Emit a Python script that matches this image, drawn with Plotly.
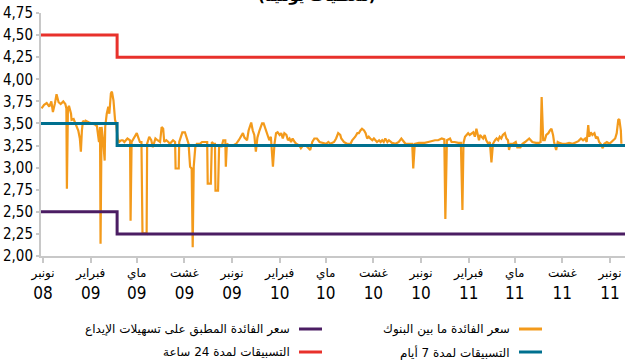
import pandas as pd
import plotly.graph_objects as go

# interbank rate (days counted from 2008-11-01)
interbank_days = [
    -3, 2, 7, 12, 16, 19, 23, 26, 30, 34, 39, 43, 45, 46, 48, 50, 54, 55, 59, 63,
    68, 71, 73, 75, 77, 80, 82, 89, 95, 100, 104, 106, 108, 110, 111, 113, 116, 119, 120, 123,
    126, 128, 131, 133, 136, 139, 141, 144, 147, 151, 154, 157, 163, 168, 169, 171, 173, 178, 181, 184,
    187, 190, 192, 200, 201, 205, 209, 212, 214, 217, 221, 226, 229, 232, 234, 238, 242, 245, 251, 255,
    256, 262, 263, 266, 269, 274, 278, 281, 284, 287, 289, 291, 294, 297, 303, 307, 313, 317, 318, 324,
    326, 329, 332, 333, 338, 340, 345, 348, 352, 353, 355, 360, 367, 373, 378, 383, 386, 389, 394, 397,
    402, 405, 408, 411, 414, 418, 423, 426, 430, 433, 437, 440, 444, 447, 450, 453, 457, 460, 463, 466,
    470, 473, 476, 479, 482, 486, 489, 495, 498, 502, 508, 516, 520, 524, 529, 534, 540, 547, 551, 555,
    562, 566, 570, 574, 576, 581, 587, 594, 597, 600, 603, 607, 610, 613, 616, 620, 623, 626, 629, 632,
    636, 639, 642, 645, 649, 652, 655, 658, 661, 665, 668, 671, 674, 681, 687, 692, 697, 700, 707, 713,
    715, 718, 726, 732, 737, 744, 750, 757, 763, 770, 775, 777, 780, 786, 789, 795, 802, 807, 810, 812,
    815, 818, 821, 824, 827, 831, 834, 837, 839, 842, 844, 847, 850, 853, 856, 860, 863, 866, 869, 873,
    876, 879, 882, 885, 888, 892, 895, 898, 900, 903, 908, 913, 916, 922, 926, 931, 935, 939, 942, 945,
    952, 958, 961, 963, 966, 969, 972, 976, 979, 982, 985, 987, 991, 994, 997, 1003, 1010, 1016, 1023, 1029,
    1034, 1039, 1043, 1047, 1050, 1053, 1055, 1058, 1061, 1065, 1068, 1071, 1074, 1077, 1081, 1084, 1089, 1094, 1098, 1102,
    1105, 1108, 1111, 1113, 1116, 1117,
]
interbank_rate = [
    3.67, 3.71, 3.73, 3.69, 3.75, 3.63, 3.73, 3.83, 3.74, 3.72, 3.75, 3.72, 3.67, 2.76, 3.67, 3.70, 3.61, 3.54, 3.55, 3.50,
    3.42, 3.33, 3.18, 3.42, 3.53, 3.51, 3.53, 3.51, 3.50, 3.49, 3.47, 3.39, 3.29, 3.46, 2.14, 3.46, 3.31, 3.08, 3.46, 3.61,
    3.69, 3.61, 3.84, 3.86, 3.76, 3.54, 3.50, 3.33, 3.29, 3.31, 3.31, 3.29, 3.33, 3.31, 2.40, 3.29, 3.31, 3.35, 3.39, 3.34,
    3.29, 3.29, 2.26, 2.25, 3.27, 3.35, 3.31, 3.23, 3.27, 3.33, 3.31, 3.29, 3.46, 3.44, 3.29, 3.31, 3.29, 3.27, 3.31, 3.29,
    2.99, 2.99, 3.29, 3.35, 3.40, 3.40, 3.33, 3.27, 3.01, 2.99, 2.10, 3.01, 3.23, 3.27, 3.27, 3.29, 3.29, 3.29, 2.82, 2.82,
    3.29, 3.27, 3.27, 2.74, 2.74, 3.24, 3.24, 3.31, 3.31, 3.01, 3.27, 3.25, 3.25, 3.27, 3.31, 3.37, 3.39, 3.34, 3.31, 3.42,
    3.51, 3.42, 3.37, 3.18, 3.34, 3.42, 3.50, 3.50, 3.42, 3.37, 3.31, 3.35, 3.01, 3.27, 3.39, 3.40, 3.37, 3.39, 3.33, 3.39,
    3.37, 3.31, 3.33, 3.29, 3.33, 3.29, 3.27, 3.25, 3.22, 3.25, 3.25, 3.20, 3.29, 3.33, 3.33, 3.29, 3.28, 3.27, 3.29, 3.27,
    3.29, 3.33, 3.39, 3.37, 3.33, 3.29, 3.27, 3.27, 3.31, 3.33, 3.35, 3.39, 3.39, 3.42, 3.44, 3.42, 3.39, 3.33, 3.35, 3.33,
    3.31, 3.33, 3.31, 3.29, 3.31, 3.29, 3.31, 3.29, 3.33, 3.29, 3.31, 3.29, 3.28, 3.27, 3.29, 3.33, 3.29, 3.27, 3.27, 3.27,
    2.99, 3.27, 3.28, 3.28, 3.28, 3.29, 3.30, 3.31, 3.31, 3.33, 3.32, 2.42, 3.31, 3.33, 3.29, 3.29, 3.28, 3.28, 2.52, 3.28,
    3.35, 3.37, 3.39, 3.37, 3.38, 3.40, 3.35, 3.44, 3.39, 3.31, 3.37, 3.35, 3.33, 3.37, 3.31, 3.27, 3.29, 3.06, 3.27, 3.31,
    3.33, 3.31, 3.35, 3.33, 3.37, 3.39, 3.33, 3.31, 3.20, 3.27, 3.27, 3.29, 3.23, 3.23, 3.27, 3.29, 3.31, 3.33, 3.31, 3.29,
    3.28, 3.28, 3.29, 3.80, 3.31, 3.31, 3.37, 3.39, 3.42, 3.44, 3.37, 3.29, 3.20, 3.29, 3.28, 3.27, 3.27, 3.28, 3.27, 3.29,
    3.30, 3.33, 3.31, 3.33, 3.29, 3.48, 3.35, 3.40, 3.37, 3.39, 3.33, 3.35, 3.29, 3.27, 3.22, 3.27, 3.29, 3.27, 3.29, 3.31,
    3.33, 3.39, 3.54, 3.55, 3.42, 3.27,
]

# policy corridor (step on 24 March 2009)
policy_dates = ["2008-10-28", "2009-03-24", "2011-11-30"]
advances_24h = [4.50, 4.25, 4.25]
advances_7d = [3.50, 3.25, 3.25]
deposit_facility = [2.50, 2.25, 2.25]

tick_dates = ["2008-11-01", "2009-02-01", "2009-05-01", "2009-08-01", "2009-11-01",
              "2010-02-01", "2010-05-01", "2010-08-01", "2010-11-01",
              "2011-02-01", "2011-05-01", "2011-08-01", "2011-11-01"]
tick_months = ["نونبر", "فبراير", "ماي", "غشت", "نونبر", "فبراير", "ماي", "غشت",
               "نونبر", "فبراير", "ماي", "غشت", "نونبر"]
tick_years = ["08", "09", "09", "09", "09", "10", "10", "10", "10", "11", "11", "11", "11"]

ORANGE = "#F39A1B"
BLUE = "#00708F"
PURPLE = "#4B1D63"
RED = "#E8312B"
AXIS_GREY = "#c8c8c8"
ARABIC = "DejaVu Sans"
NARROW = "DejaVu Sans Condensed, sans-serif"
X_RANGE = ["2008-10-28", "2011-11-30"]

interbank_dates = pd.Timestamp("2008-11-01") + pd.to_timedelta(interbank_days, unit="D")

fig = go.Figure()
fig.add_scatter(x=interbank_dates, y=interbank_rate, mode="lines",
                line=dict(color=ORANGE, width=2.2))
fig.add_scatter(x=policy_dates, y=advances_7d, mode="lines", line_shape="hv",
                line=dict(color=BLUE, width=3))
fig.add_scatter(x=policy_dates, y=deposit_facility, mode="lines", line_shape="hv",
                line=dict(color=PURPLE, width=3))
# this one sits on the year axis (same range) so that axis gets drawn
fig.add_scatter(x=policy_dates, y=advances_24h, mode="lines", line_shape="hv",
                line=dict(color=RED, width=3), xaxis="x2")

fig.update_layout(
    width=630, height=363,
    margin=dict(l=41, r=5, t=13, b=107, autoexpand=False),
    plot_bgcolor="white", paper_bgcolor="white",
    showlegend=False,
    separators=", ",
    xaxis=dict(
        type="date", range=X_RANGE,
        tickvals=tick_dates, ticktext=tick_months,
        tickfont=dict(family=ARABIC, size=12, color="black"),
        showgrid=False, zeroline=False, automargin=False,
        showline=True, linecolor=AXIS_GREY, linewidth=2,
        ticks="outside", ticklen=5, tickcolor=AXIS_GREY, tickwidth=2,
    ),
    xaxis2=dict(
        type="date", range=X_RANGE, matches="x", overlaying="x", anchor="y", side="bottom",
        tickvals=tick_dates, ticktext=tick_years,
        tickfont=dict(family=NARROW, size=17, color="black"),
        showgrid=False, zeroline=False, automargin=False, showline=False,
        ticks="", ticklabelstandoff=25,
    ),
    yaxis=dict(
        range=[2.0, 4.75], dtick=0.25, tick0=2.0, tickformat=".2f",
        tickfont=dict(family=NARROW, size=15, color="black"),
        showgrid=False, zeroline=False, automargin=False,
        showline=True, linecolor=AXIS_GREY, linewidth=2,
        ticks="outside", ticklen=3, tickcolor=AXIS_GREY, tickwidth=2,
    ),
)

# subtitle, cut off by the top edge as in the source
fig.add_annotation(xref="paper", yref="paper", x=0.473, y=1.024, text="<b>(معطيات يومية)</b>",
                   showarrow=False, font=dict(family=ARABIC, size=15, color="black"),
                   xanchor="center", yanchor="bottom")

# right-to-left legend drawn by hand (positions in plot-area fractions)
def px_x(px):
    return (px - 41) / 584

def px_y(py):
    return (256 - py) / 243

legend_items = [
    ("سعر الفائدة ما بين البنوك", ORANGE, 519, 329),
    ("التسبيقات لمدة 7 أيام", BLUE, 519, 352),
    ("سعر الفائدة المطبق على تسهيلات الإيداع", PURPLE, 299, 329),
    ("التسبيقات لمدة 24 ساعة", RED, 299, 352),
]
for label, col, sx, sy in legend_items:
    fig.add_shape(type="line", xref="paper", yref="paper",
                  x0=px_x(sx), x1=px_x(sx + 23), y0=px_y(sy), y1=px_y(sy),
                  line=dict(color=col, width=3))
    fig.add_annotation(xref="paper", yref="paper", x=px_x(sx - 7), y=px_y(sy), text=label,
                       showarrow=False, xanchor="right", yanchor="middle",
                       font=dict(family=ARABIC, size=12, color="black"))

# drop the default page margin so the figure sits at the window's corner
fig.write_html("out.html", config={"displayModeBar": False},
               post_script="document.body.style.margin = '0';")
